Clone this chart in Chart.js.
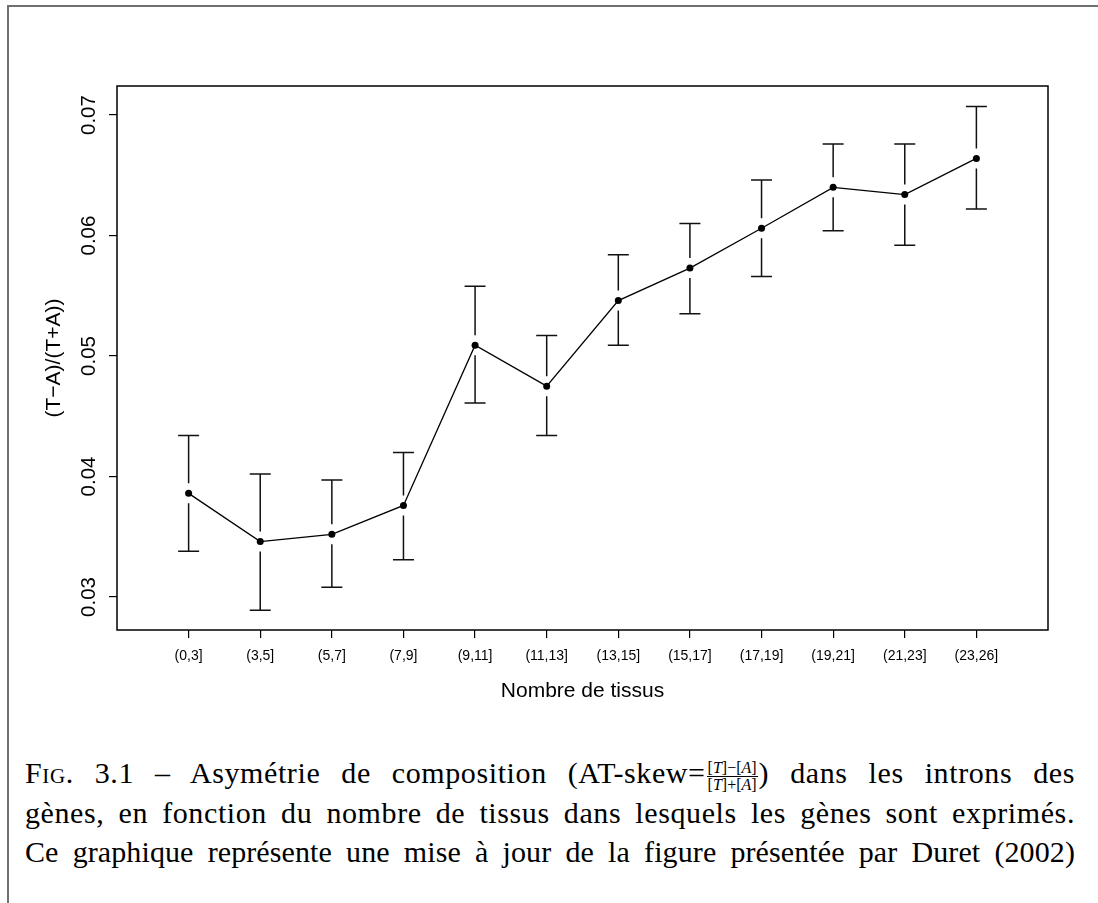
<!DOCTYPE html>
<html>
<head>
<meta charset="utf-8">
<script src="https://cdn.jsdelivr.net/npm/chart.js@4.4.0/dist/chart.umd.min.js"></script>
<style>
  body { margin: 0; background: #fff; width: 1098px; height: 903px; overflow: hidden; position: relative; }
  #frame { position: absolute; left: 7px; top: 5px; width: 1200px; height: 1000px; border: 2px solid #707070; box-sizing: border-box; }
  #plot { position: absolute; left: 0; top: 0; }
  .cap { position: absolute; left: 25px; width: 1050px; font-family: 'Liberation Serif', serif; font-size: 30px; line-height: 28px;
         letter-spacing: 0.6px; text-align: justify; text-align-last: justify; color: #000; }
  .sc { font-variant: small-caps; }
  .frac { display: inline-block; vertical-align: middle; font-size: 16px; line-height: 16px; text-align: center; margin: 0 1px; letter-spacing: 0; }
  .frac span { display: block; padding: 0 1px; }
  .frac .num { border-bottom: 1px solid #000; }
</style>
</head>
<body>
<div id="frame"></div>
<canvas id="plot" width="1098" height="720"></canvas>

<div class="cap" style="top:759px"><span class="sc">Fig.</span> 3.1 – Asymétrie de composition (AT-skew=<span class="frac"><span class="num">[<i>T</i>]−[<i>A</i>]</span><span>[<i>T</i>]+[<i>A</i>]</span></span>) dans les introns des</div>
<div class="cap" style="top:799px">gènes, en fonction du nombre de tissus dans lesquels les gènes sont exprimés.</div>
<div class="cap" style="top:838px; letter-spacing:0.1px">Ce graphique représente une mise à jour de la figure présentée par Duret (2002)</div>

<script>
// tissue-count bins on the x axis
const tissueBins = ['(0,3]', '(3,5]', '(5,7]', '(7,9]', '(9,11]', '(11,13]',
                    '(13,15]', '(15,17]', '(17,19]', '(19,21]', '(21,23]', '(23,26]'];

// AT-skew mean and error bar ends
const skewMean  = [0.0386, 0.0346, 0.0352, 0.0376, 0.0509, 0.0475, 0.0546, 0.0573, 0.0606, 0.0640, 0.0634, 0.0664];
const skewUpper = [0.0434, 0.0402, 0.0397, 0.0420, 0.0558, 0.0517, 0.0584, 0.0610, 0.0646, 0.0676, 0.0676, 0.0707];
const skewLower = [0.0338, 0.0289, 0.0308, 0.0331, 0.0461, 0.0434, 0.0509, 0.0535, 0.0566, 0.0604, 0.0592, 0.0622];

const yTickValues = [0.03, 0.04, 0.05, 0.06, 0.07];

const SANS = "'Liberation Sans', Arial, sans-serif";

// box round the plot, R style
const boxPlugin = {
  id: 'box',
  afterDraw(chart) {
    const { ctx, chartArea: a } = chart;
    ctx.save();
    ctx.strokeStyle = '#000';
    ctx.lineWidth = 1.5;
    ctx.strokeRect(a.left, a.top, a.right - a.left, a.bottom - a.top);
    ctx.restore();
  }
};

// vertical y tick labels (chart.js won't rotate y ticks)
const yLabelPlugin = {
  id: 'yLabels',
  afterDraw(chart) {
    const { ctx } = chart;
    const ys = chart.scales.y;
    ctx.save();
    ctx.fillStyle = '#000';
    ctx.font = `20.5px ${SANS}`;
    ctx.textAlign = 'center';
    ctx.textBaseline = 'middle';
    ys.ticks.forEach(t => {
      const py = ys.getPixelForValue(t.value);
      ctx.save();
      ctx.translate(89, py);
      ctx.rotate(-Math.PI / 2);
      ctx.fillText(t.value.toFixed(2), 0, 0);
      ctx.restore();
    });
    ctx.restore();
  }
};

// error bars with a small gap round each point
const errorBarPlugin = {
  id: 'errorBars',
  afterDatasetsDraw(chart) {
    const { ctx } = chart;
    const xs = chart.scales.x, ys = chart.scales.y;
    const gap = 10, cap = 10.5;
    ctx.save();
    ctx.strokeStyle = '#111';
    ctx.lineWidth = 1.5;
    skewMean.forEach((m, i) => {
      const px = xs.getPixelForValue(i + 1);
      const pm = ys.getPixelForValue(m);
      const pu = ys.getPixelForValue(skewUpper[i]);
      const pl = ys.getPixelForValue(skewLower[i]);
      ctx.beginPath();
      ctx.moveTo(px, pm - gap); ctx.lineTo(px, pu);
      ctx.moveTo(px - cap, pu); ctx.lineTo(px + cap, pu);
      ctx.moveTo(px, pm + gap); ctx.lineTo(px, pl);
      ctx.moveTo(px - cap, pl); ctx.lineTo(px + cap, pl);
      ctx.stroke();
    });
    ctx.restore();
  }
};

new Chart(document.getElementById('plot'), {
  type: 'line',
  data: {
    datasets: [{
      data: skewMean.map((v, i) => ({ x: i + 1, y: v })),
      borderColor: '#000',
      borderWidth: 1.3,
      backgroundColor: '#000',
      pointRadius: 3.5,
      pointBorderWidth: 0,
      pointBackgroundColor: '#000',
      tension: 0,
      fill: false,
    }]
  },
  options: {
    responsive: false,
    animation: false,
    devicePixelRatio: 1,
    layout: { padding: { left: 0, top: 86, right: 50, bottom: 0 } },
    plugins: { legend: { display: false }, tooltip: { enabled: false } },
    scales: {
      x: {
        type: 'linear',
        min: 0,
        max: 13,
        afterBuildTicks: s => { s.ticks = tissueBins.map((_, i) => ({ value: i + 1 })); },
        afterFit: s => { s.height = 90; },
        grid: { drawOnChartArea: false, drawTicks: true, tickLength: 8, color: '#000', lineWidth: 1.2 },
        border: { display: false },
        ticks: {
          autoSkip: false, maxRotation: 0, minRotation: 0, padding: 10, color: '#000',
          font: { family: SANS, size: 14 },
          callback: v => tissueBins[v - 1],
        },
        title: {
          display: true, text: 'Nombre de tissus', color: '#000',
          font: { family: SANS, size: 21 }, padding: { top: 0, bottom: 16 },
        },
      },
      y: {
        min: 0.02726,
        max: 0.07241,
        afterBuildTicks: s => { s.ticks = yTickValues.map(v => ({ value: v })); },
        afterFit: s => { s.width = 117; },
        grid: { drawOnChartArea: false, drawTicks: true, tickLength: 8, color: '#000', lineWidth: 1.2 },
        border: { display: false },
        ticks: { display: false },
        title: {
          display: true, text: '(T−A)/(T+A))', color: '#000',
          font: { family: SANS, size: 21 }, padding: { top: 42, bottom: 0 },
        },
      },
    },
  },
  plugins: [boxPlugin, yLabelPlugin, errorBarPlugin],
});
</script>
</body>
</html>
